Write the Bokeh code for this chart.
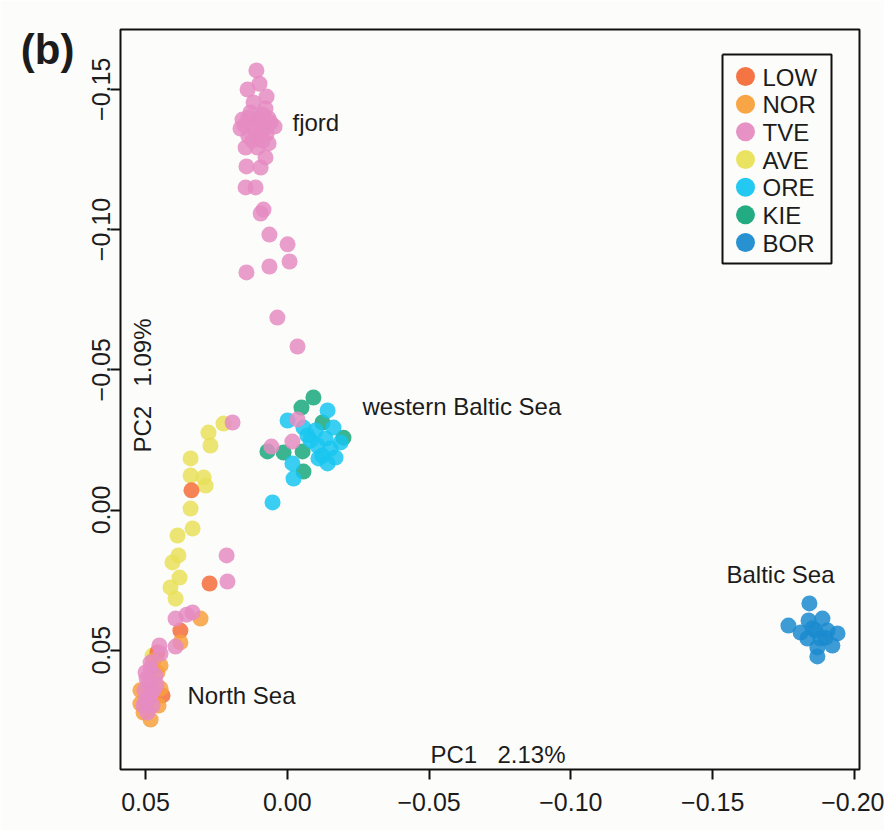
import math
from bokeh.plotting import figure
from bokeh.models import Range1d, FixedTicker, CustomJSTickFormatter, LinearAxis
from bokeh.core.properties import value
from bokeh.embed import file_html
from bokeh.resources import INLINE

# ---------------- data (PC1, PC2) ----------------
groups = ["LOW", "NOR", "TVE", "AVE", "ORE", "KIE", "BOR"]
colors = ["#F46D3A", "#F8A03C", "#E58CC2", "#E9E15A", "#17C6F0", "#17A87B", "#1B8BCF"]

low_pc1 = [0.0338, 0.0274, 0.0377, 0.0440, 0.0458]
low_pc2 = [-0.0070, 0.0262, 0.0430, 0.0661, 0.0508]

nor_pc1 = [0.0306, 0.0377, 0.0472, 0.0447, 0.0518, 0.0507, 0.0482, 0.0454, 0.0447, 0.0518, 0.0458]
nor_pc2 = [0.0387, 0.0472, 0.0537, 0.0554, 0.0643, 0.0722, 0.0747, 0.0697, 0.0636, 0.0690, 0.0579]

tve_pc1 = [0.0109, 0.0098, 0.0140, 0.0073, 0.0119, 0.0077, 0.0158, 0.0137, 0.0105, 0.0066,
           0.0045, 0.0123, 0.0087, 0.0137, 0.0102, 0.0066, 0.0147, 0.0105, 0.0077, 0.0144,
           0.0094, 0.0147, 0.0112, 0.0084, 0.0094, 0.0063, -0.0001, -0.0008, 0.0063, 0.0144,
           0.0035, -0.0036, 0.0130, 0.0087, 0.0059, 0.0151, 0.0102, 0.0073, 0.0123, 0.0087,
           0.0165, -0.0036, -0.0018, 0.0056, 0.0193, 0.0214, 0.0211, 0.0394, 0.0334, 0.0355,
           0.0451, 0.0394, 0.0447, 0.0482, 0.0500, 0.0465, 0.0489, 0.0504, 0.0472, 0.0489,
           0.0507, 0.0475, 0.0493, 0.0482, 0.0461, 0.0496, 0.0482, 0.0500]
tve_pc2 = [-0.1567, -0.1520, -0.1499, -0.1474, -0.1453, -0.1431, -0.1392, -0.1399, -0.1396, -0.1396,
           -0.1367, -0.1364, -0.1353, -0.1332, -0.1328, -0.1307, -0.1292, -0.1292, -0.1257, -0.1225,
           -0.1221, -0.1150, -0.1150, -0.1071, -0.1057, -0.0982, -0.0947, -0.0886, -0.0868, -0.0847,
           -0.0686, -0.0583, -0.1417, -0.1410, -0.1381, -0.1371, -0.1374, -0.1342, -0.1317, -0.1317,
           -0.1360, -0.0323, -0.0244, -0.0226, -0.0312, 0.0162, 0.0255, 0.0387, 0.0365, 0.0373,
           0.0483, 0.0487, 0.0512, 0.0544, 0.0579, 0.0590, 0.0615, 0.0643, 0.0643, 0.0672,
           0.0697, 0.0697, 0.0722, 0.0565, 0.0622, 0.0601, 0.0658, 0.0679]

ave_pc1 = [0.0225, 0.0278, 0.0271, 0.0341, 0.0341, 0.0295, 0.0288, 0.0341, 0.0334, 0.0387,
           0.0384, 0.0405, 0.0380, 0.0412, 0.0394, 0.0475]
ave_pc2 = [-0.0308, -0.0276, -0.0230, -0.0184, -0.0123, -0.0116, -0.0087, -0.0005, 0.0066, 0.0091,
           0.0162, 0.0187, 0.0241, 0.0276, 0.0316, 0.0519]

ore_pc1 = [-0.0142, -0.0001, -0.0057, -0.0099, -0.0163, -0.0135, -0.0188, -0.0106, -0.0152, -0.0110,
           -0.0142, -0.0018, -0.0022, 0.0052, -0.0082, -0.0124, -0.0170, -0.0071]
ore_pc2 = [-0.0355, -0.0319, -0.0294, -0.0283, -0.0294, -0.0255, -0.0241, -0.0230, -0.0219, -0.0184,
           -0.0166, -0.0166, -0.0112, -0.0027, -0.0248, -0.0194, -0.0187, -0.0266]

kie_pc1 = [-0.0092, -0.0050, -0.0198, 0.0070, 0.0013, -0.0054, -0.0057, -0.0124]
kie_pc2 = [-0.0401, -0.0365, -0.0258, -0.0209, -0.0205, -0.0209, -0.0137, -0.0312]

bor_pc1 = [-0.1841, -0.1767, -0.1838, -0.1887, -0.1810, -0.1862, -0.1905, -0.1940, -0.1834, -0.1880,
           -0.1922, -0.1869, -0.1869, -0.1852, -0.1898]
bor_pc2 = [0.0333, 0.0412, 0.0394, 0.0387, 0.0437, 0.0430, 0.0430, 0.0440, 0.0458, 0.0458,
           0.0483, 0.0490, 0.0522, 0.0422, 0.0455]

x_ticks = [0.05, 0.0, -0.05, -0.10, -0.15, -0.20]
y_ticks = [-0.15, -0.10, -0.05, 0.0, 0.05]

region_labels = ["fjord", "western Baltic Sea", "North Sea", "Baltic Sea"]
pc1_label = ["PC1", "2.13%"]
pc2_label = ["PC2", "1.09%"]
panel_tag = "(b)"

series = {
    "LOW": (low_pc1, low_pc2), "NOR": (nor_pc1, nor_pc2), "TVE": (tve_pc1, tve_pc2),
    "AVE": (ave_pc1, ave_pc2), "ORE": (ore_pc1, ore_pc2), "KIE": (kie_pc1, kie_pc2),
    "BOR": (bor_pc1, bor_pc2),
}
draw_order = ["KIE", "ORE", "AVE", "LOW", "NOR", "TVE", "BOR"]

# ---------------- layout helpers (page pixel -> data) ----------------
FONT = "Liberation Sans"
INK = "#1c1c1c"
X0_PX, X_PER = 286.8, 2836.0
Y0_PX, Y_PER = 509.5, 2805.0
TXT = 8  # baseline correction for alphabetic text


def xd(px):
    return (X0_PX - px) / X_PER


def yd(py):
    return (py - Y0_PX) / Y_PER


BG = "#fcfcfa"
p = figure(frame_width=739, frame_height=740,
           min_border_left=120, min_border_right=25, min_border_top=29, min_border_bottom=61,
           x_range=Range1d(xd(120), xd(859)), y_range=Range1d(yd(769), yd(29)),
           output_backend="svg", toolbar_location=None,
           background_fill_color=BG, border_fill_color=BG)
p.grid.visible = False
p.outline_line_color = "#111111"
p.outline_line_width = 2
p.outline_line_alpha = 1.0

fmt = CustomJSTickFormatter(code="return tick.toFixed(2).replace('-', '\\u2212');")
for ax, ticks, standoff in ((p.xaxis, x_ticks, 13), (p.yaxis, y_ticks, 1)):
    ax.ticker = FixedTicker(ticks=ticks)
    ax.formatter = fmt
    ax.axis_line_color = None
    ax.major_tick_in = 0
    ax.major_tick_out = 10
    ax.major_tick_line_width = 2
    ax.major_tick_line_color = "#111111"
    ax.minor_tick_line_color = None
    ax.major_label_text_font = FONT
    ax.major_label_text_font_size = "25px"
    ax.major_label_text_color = INK
    ax.major_label_standoff = standoff
p.yaxis.major_label_orientation = "vertical"

# panel tag "(b)" placed in the left margin as an extra, tick-less axis label
tag_axis = LinearAxis(ticker=FixedTicker(ticks=[yd(49)]),
                      formatter=CustomJSTickFormatter(code="return '%s';" % panel_tag),
                      axis_line_color=None, major_tick_line_color=None,
                      minor_tick_line_color=None, major_tick_in=0, major_tick_out=0,
                      major_label_text_font=FONT, major_label_text_font_size="42px",
                      major_label_text_font_style="bold", major_label_text_color=INK,
                      major_label_orientation="horizontal", major_label_standoff=14)
p.add_layout(tag_axis, "left")

for g in draw_order:
    xs, ys = series[g]
    p.scatter(xs, ys, size=16, marker="circle", fill_color=colors[groups.index(g)],
              fill_alpha=0.85, line_color=None)

# region labels (left edge, baseline in page px)
label_pos = [(292, 130), (362, 414), (187, 703), (726, 582)]
for t, (lx, ly) in zip(region_labels, label_pos):
    p.text(x=[xd(lx)], y=[yd(ly - TXT)], text=[t], text_font=value(FONT), text_font_size="24px",
           text_color=INK, text_align="left", text_baseline="alphabetic")

# axis titles inside the box
for t, lx in zip(pc1_label, (430, 497)):
    p.text(x=[xd(lx)], y=[yd(762 - TXT)], text=[t], text_font=value(FONT), text_font_size="24px",
           text_color=INK, text_align="left", text_baseline="alphabetic")
for t, ly in zip(pc2_label, (452, 386)):
    p.text(x=[xd(150 - TXT)], y=[yd(ly)], text=[t], text_font=value(FONT), text_font_size="24px",
           text_color=INK, text_align="left", text_baseline="alphabetic", angle=math.pi / 2)

# legend box drawn by hand to match R's large keys
lg_left, lg_right, lg_top, lg_bottom = 722, 831, 54, 263
p.line(x=[xd(lg_left), xd(lg_right), xd(lg_right), xd(lg_left), xd(lg_left)],
       y=[yd(lg_top), yd(lg_top), yd(lg_bottom), yd(lg_bottom), yd(lg_top)],
       line_color="#111111", line_width=2)
row_centers = [76 + i * 27.67 for i in range(len(groups))]
p.scatter(x=[xd(745)] * len(groups), y=[yd(c) for c in row_centers], size=19,
          marker="circle", fill_color=colors, fill_alpha=0.95, line_color=None)
p.text(x=[xd(762)] * len(groups), y=[yd(c + 8.5 - TXT) for c in row_centers], text=groups,
       text_font=value(FONT), text_font_size="24px", text_color=INK,
       text_align="left", text_baseline="alphabetic")

open("out.html", "w").write(file_html(p, INLINE))
